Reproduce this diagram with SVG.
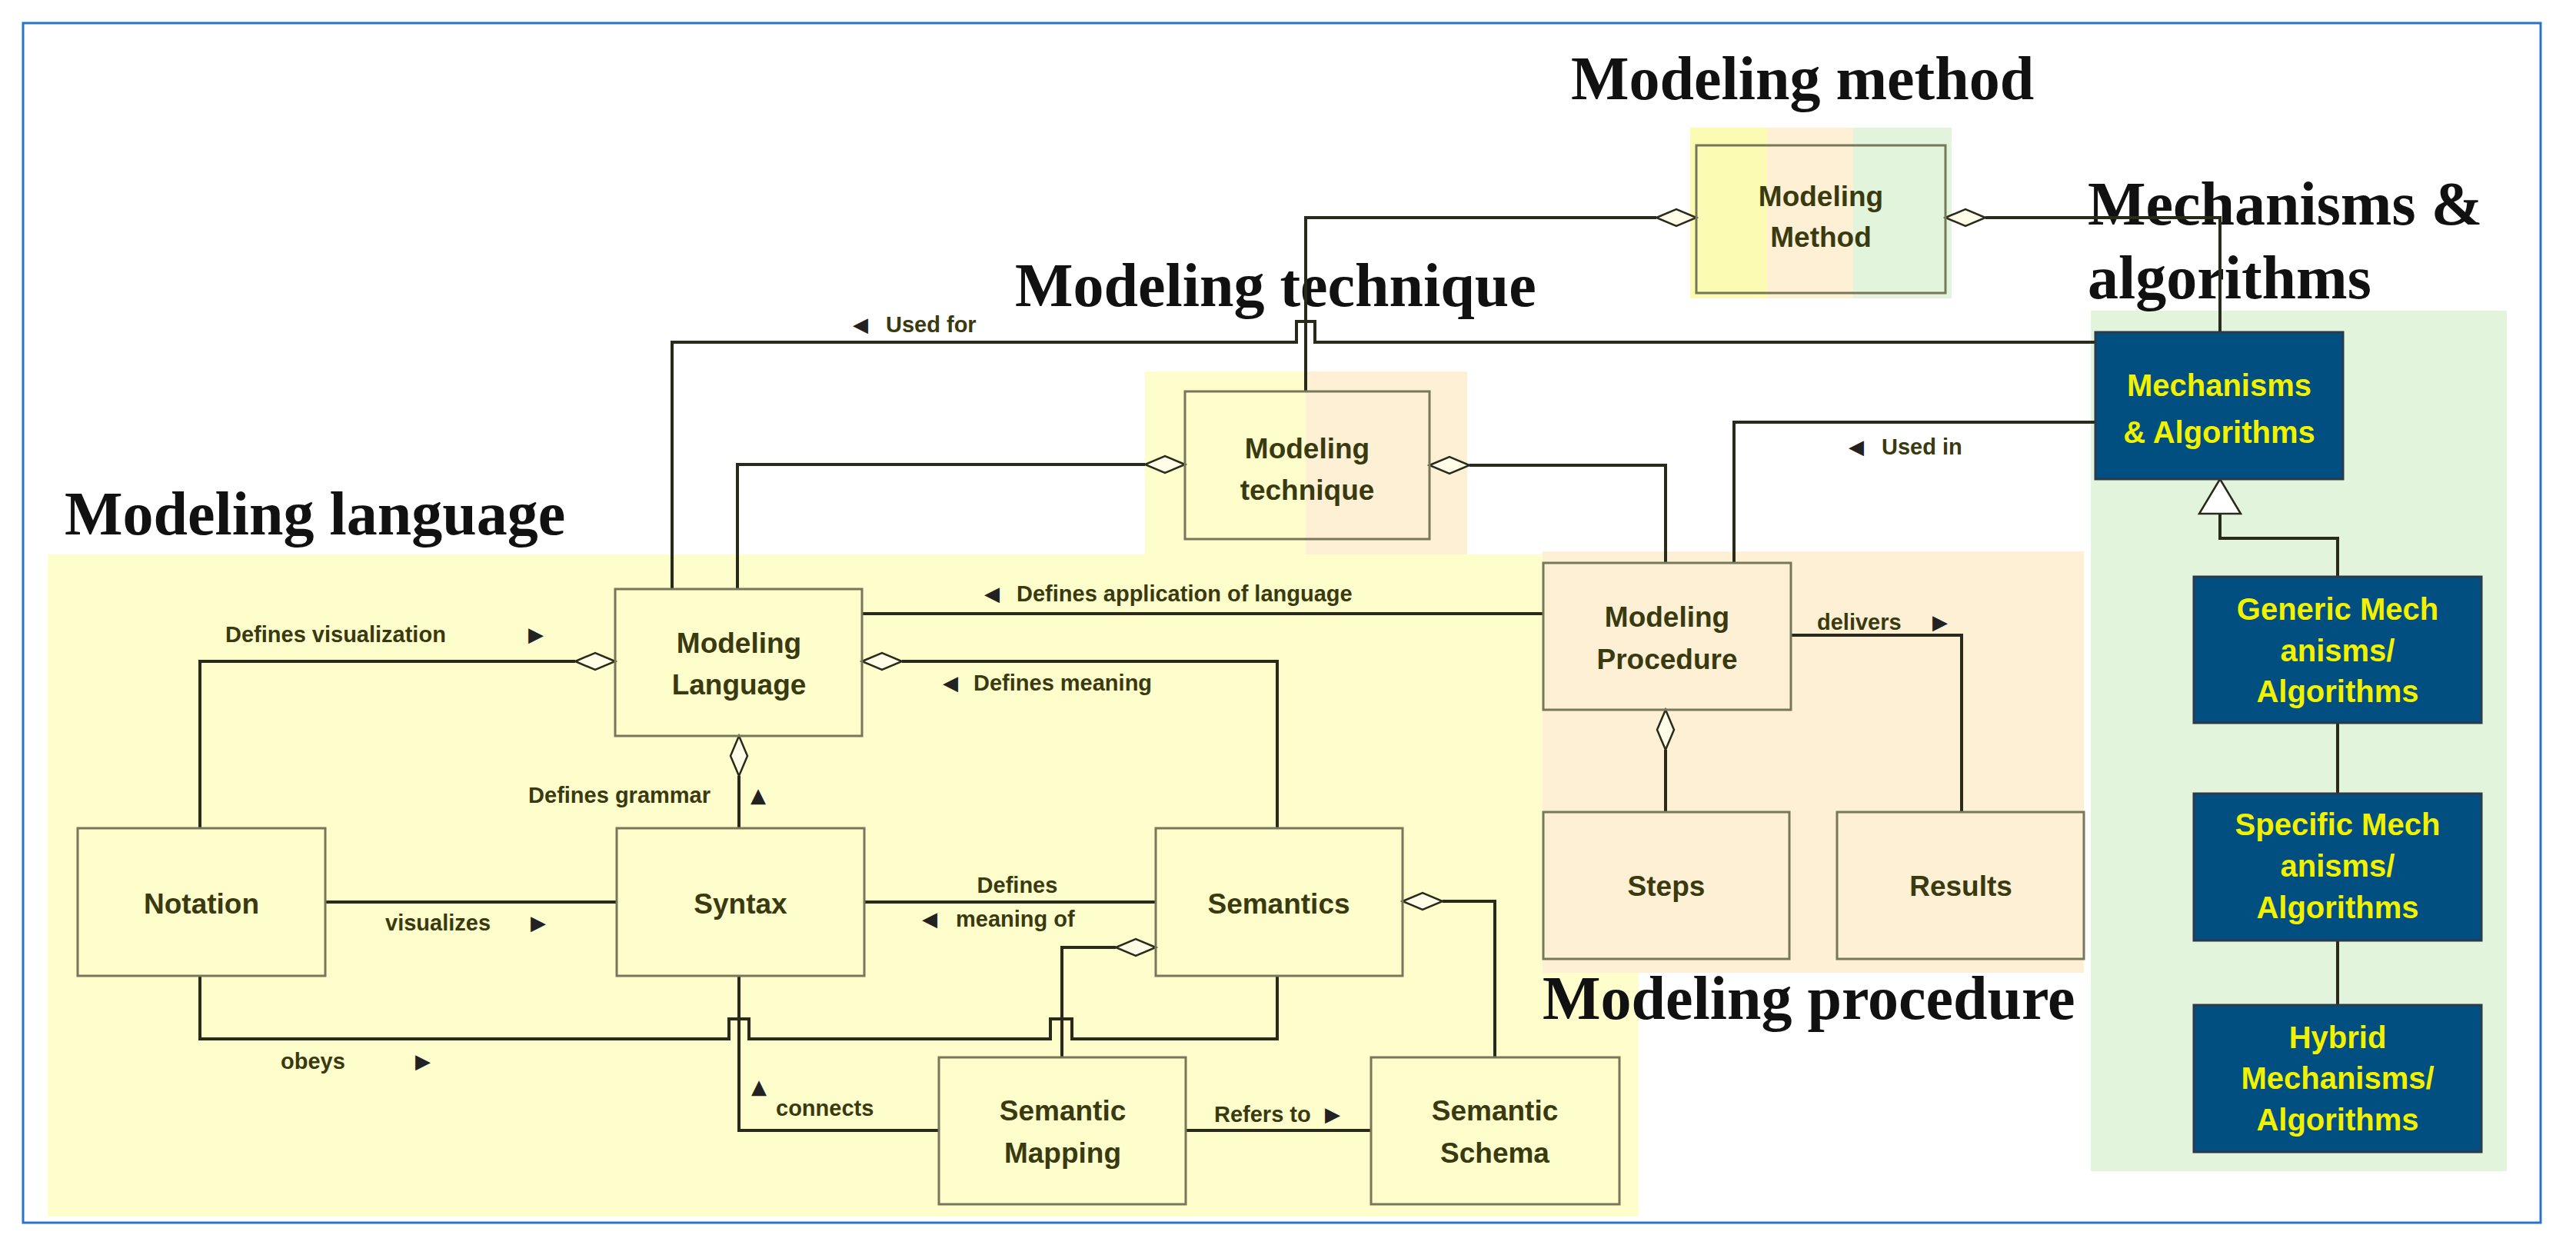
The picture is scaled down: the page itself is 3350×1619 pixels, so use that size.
<svg xmlns="http://www.w3.org/2000/svg" width="3350" height="1619" viewBox="0 0 3350 1619">
<style>
.title{font-family:"Liberation Serif",serif;font-weight:bold;font-size:80px;fill:#111}
.n{font-family:"Liberation Sans",Arial,sans-serif;font-weight:bold;font-size:37px;fill:#3a3a10;text-anchor:middle;dominant-baseline:central}
.b{font-family:"Liberation Sans",Arial,sans-serif;font-weight:bold;font-size:40px;fill:#f2f200;text-anchor:middle;dominant-baseline:central}
.l{font-family:"Liberation Sans",Arial,sans-serif;font-weight:bold;font-size:29px;fill:#3a3a10;dominant-baseline:central}
.a{font-family:"DejaVu Sans",sans-serif;font-size:26px;fill:#222;dominant-baseline:central}
.box{fill:none;stroke:#77775a;stroke-width:3}
.blue{fill:#004f80;stroke:#2a3a4a;stroke-width:3}
.c{fill:none;stroke:#2a2a1a;stroke-width:4}
.d{fill:#fffde8;stroke:#2a2a1a;stroke-width:2.5}
</style>
<rect x="0" y="0" width="3350" height="1619" fill="#fff"/>
<rect x="30" y="30" width="3274" height="1560" fill="none" stroke="#2a74c8" stroke-width="3"/>
<g id="areas">
<rect x="62" y="721" width="2069" height="861" fill="#fefdcc"/>
<rect x="2006" y="717" width="704" height="548" fill="#fdf0d4"/>
<rect x="1489" y="483" width="209" height="238" fill="#fefdcc"/>
<rect x="1698" y="483" width="210" height="238" fill="#fdf0d4"/>
<rect x="2198" y="166" width="100" height="222" fill="#fbfbb4"/>
<rect x="2298" y="166" width="112" height="222" fill="#fdf0d4"/>
<rect x="2410" y="166" width="128" height="222" fill="#e3f4dc"/>
<rect x="2719" y="404" width="541" height="1119" fill="#e3f4dc"/>
</g>
<g id="titles">
<text class="title" x="2043" y="129">Modeling method</text>
<text class="title" x="2715" y="292">Mechanisms &amp;</text>
<text class="title" x="2715" y="388">algorithms</text>
<text class="title" x="1320" y="398">Modeling technique</text>
<text class="title" x="84" y="695">Modeling language</text>
<text class="title" x="2006" y="1325">Modeling procedure</text>
</g>
<g id="connectors">
<path class="c" d="M874 766 V445 H1686 V418 H1710 V445 H2725"/>
<path class="c" d="M2154 283 H1698 V509"/>
<path class="c" d="M2582 283 H2887 V432"/>
<path class="c" d="M1489 604 H959 V766"/>
<path class="c" d="M1911 605 H2166 V732"/>
<path class="c" d="M2725 549 H2255 V732"/>
<path class="c" d="M1121 798 H2007"/>
<path class="c" d="M1173 860 H1661 V1077"/>
<path class="c" d="M748 860 H260 V1077"/>
<path class="c" d="M961 1009 V1077"/>
<path class="c" d="M423 1173 H802"/>
<path class="c" d="M1124 1173 H1503"/>
<path class="c" d="M260 1269 V1351 H948 V1325 H974 V1351 H1366 V1325 H1394 V1351 H1661 V1269"/>
<path class="c" d="M961 1269 V1470 H1221"/>
<path class="c" d="M1451 1232 H1381 V1375"/>
<path class="c" d="M1542 1470 H1783"/>
<path class="c" d="M1876 1172 H1944 V1375"/>
<path class="c" d="M2166 975 V1056"/>
<path class="c" d="M2329 826 H2551 V1056"/>
<path class="c" d="M2887 668 V700 H3040 V750"/>
<path class="c" d="M3040 940 V1032 M3040 1223 V1307"/>
<path class="d" d="M2206 283 l-26 -11 l-26 11 l26 11 z"/>
<path class="d" d="M2530 283 l26 -11 l26 11 l-26 11 z"/>
<path class="d" d="M1541 604 l-26 -11 l-26 11 l26 11 z"/>
<path class="d" d="M1859 605 l26 -11 l26 11 l-26 11 z"/>
<path class="d" d="M1121 860 l26 -11 l26 11 l-26 11 z"/>
<path class="d" d="M800 860 l-26 -11 l-26 11 l26 11 z"/>
<path class="d" d="M961 957 l-11 26 l11 26 l11 -26 z"/>
<path class="d" d="M1503 1232 l-26 -11 l-26 11 l26 11 z"/>
<path class="d" d="M1824 1172 l26 -11 l26 11 l-26 11 z"/>
<path class="d" d="M2166 923 l-11 26 l11 26 l11 -26 z"/>
<path d="M2887 623 L2914 668 L2860 668 Z" fill="#fff" stroke="#2a2a1a" stroke-width="2.5"/>
</g>
<g id="labels">
<text class="a" x="1109" y="422">◀</text><text class="l" x="1152" y="422">Used for</text>
<text class="a" x="2404" y="581">◀</text><text class="l" x="2447" y="581">Used in</text>
<text class="a" x="1280" y="772">◀</text><text class="l" x="1322" y="772">Defines application of language</text>
<text class="a" x="1226" y="888">◀</text><text class="l" x="1266" y="888">Defines meaning</text>
<text class="l" x="293" y="825">Defines visualization</text><text class="a" x="687" y="825">▶</text>
<text class="l" x="924" y="1034" text-anchor="end">Defines grammar</text><text class="a" x="976" y="1034">▲</text>
<text class="l" x="501" y="1200">visualizes</text><text class="a" x="690" y="1200">▶</text>
<text class="l" x="1323" y="1151" text-anchor="middle">Defines</text>
<text class="a" x="1199" y="1195">◀</text><text class="l" x="1243" y="1195">meaning of</text>
<text class="l" x="365" y="1380">obeys</text><text class="a" x="540" y="1380">▶</text>
<text class="a" x="977" y="1413">▲</text><text class="l" x="1009" y="1441">connects</text>
<text class="l" x="1579" y="1449">Refers to</text><text class="a" x="1723" y="1449">▶</text>
<text class="l" x="2363" y="809">delivers</text><text class="a" x="2513" y="809">▶</text>
</g>
<g id="modeling-method"><rect class="box" x="2206" y="189" width="324" height="192"/><text class="n" x="2368" y="255" font-size="34">Modeling</text><text class="n" x="2368" y="308" font-size="34">Method</text></g>
<g id="modeling-technique"><rect class="box" x="1541" y="509" width="318" height="192"/><text class="n" x="1700" y="583">Modeling</text><text class="n" x="1700" y="637">technique</text></g>
<g id="mechanisms"><rect class="blue" x="2725" y="432" width="322" height="191"/><text class="b" x="2886" y="501">Mechanisms</text><text class="b" x="2886" y="562">&amp; Algorithms</text></g>
<g id="modeling-language"><rect class="box" x="800" y="766" width="321" height="191"/><text class="n" x="961" y="836">Modeling</text><text class="n" x="961" y="890">Language</text></g>
<g id="modeling-procedure"><rect class="box" x="2007" y="732" width="322" height="191"/><text class="n" x="2168" y="802" font-size="40">Modeling</text><text class="n" x="2168" y="857" font-size="40">Procedure</text></g>
<g id="notation"><rect class="box" x="101" y="1077" width="322" height="192"/><text class="n" x="262" y="1175">Notation</text></g>
<g id="syntax"><rect class="box" x="802" y="1077" width="322" height="192"/><text class="n" x="963" y="1175">Syntax</text></g>
<g id="semantics"><rect class="box" x="1503" y="1077" width="321" height="192"/><text class="n" x="1663" y="1175">Semantics</text></g>
<g id="steps"><rect class="box" x="2007" y="1056" width="320" height="191"/><text class="n" x="2167" y="1152">Steps</text></g>
<g id="results"><rect class="box" x="2389" y="1056" width="321" height="191"/><text class="n" x="2550" y="1152">Results</text></g>
<g id="semantic-mapping"><rect class="box" x="1221" y="1375" width="321" height="191"/><text class="n" x="1382" y="1444">Semantic</text><text class="n" x="1382" y="1499">Mapping</text></g>
<g id="semantic-schema"><rect class="box" x="1783" y="1375" width="323" height="191"/><text class="n" x="1944" y="1444">Semantic</text><text class="n" x="1944" y="1499">Schema</text></g>
<g id="generic"><rect class="blue" x="2853" y="750" width="374" height="190"/><text class="b" x="3040" y="792">Generic Mech</text><text class="b" x="3040" y="846">anisms/</text><text class="b" x="3040" y="899">Algorithms</text></g>
<g id="specific"><rect class="blue" x="2853" y="1032" width="374" height="191"/><text class="b" x="3040" y="1072">Specific Mech</text><text class="b" x="3040" y="1126">anisms/</text><text class="b" x="3040" y="1180">Algorithms</text></g>
<g id="hybrid"><rect class="blue" x="2853" y="1307" width="374" height="191"/><text class="b" x="3040" y="1349">Hybrid</text><text class="b" x="3040" y="1402">Mechanisms/</text><text class="b" x="3040" y="1456">Algorithms</text></g>
</svg>
